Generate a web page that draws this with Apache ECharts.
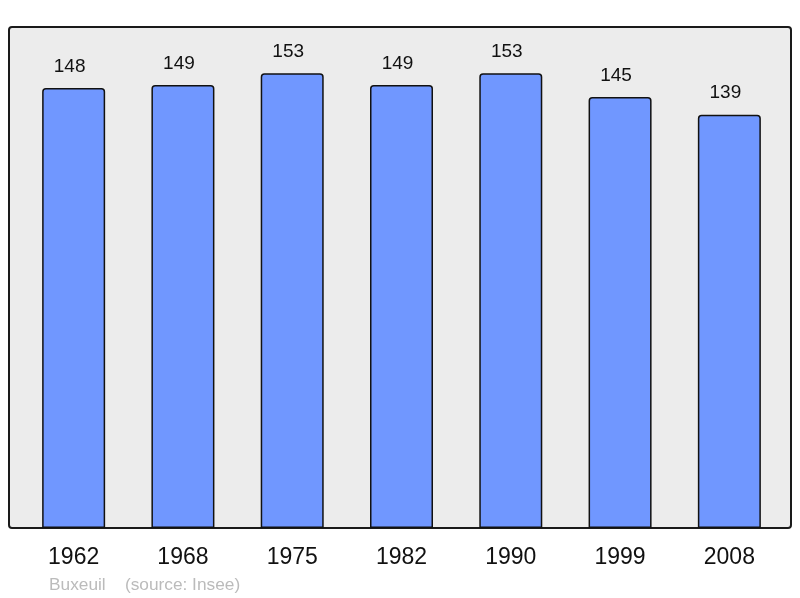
<!DOCTYPE html>
<html>
<head>
<meta charset="utf-8">
<script src="https://cdn.jsdelivr.net/npm/echarts@6/dist/echarts.min.js"></script>
<style>
html, body { margin: 0; padding: 0; background: #fff; }
#container { width: 800px; height: 598px; }
</style>
</head>
<body>
<div id="container"></div>
<script>
var years = ['1962', '1968', '1975', '1982', '1990', '1999', '2008'];
var population = [148, 149, 153, 149, 153, 145, 139];
var footer = 'Buxeuil    (source: Insee)';

var myChart = echarts.init(document.getElementById('container'));
myChart.setOption({
    animation: false,
    textStyle: { fontFamily: 'Liberation Sans, Arial, sans-serif' },
    graphic: [
        {
            type: 'rect', z: -10,
            shape: { x: 9, y: 27, width: 782, height: 501, r: 3 },
            style: { fill: '#ececec', stroke: '#1a1a1a', lineWidth: 2 }
        },
        {
            type: 'text', left: 49, top: 577,
            style: { text: footer, fill: '#bbbbbb', font: '17.3px Liberation Sans, Arial, sans-serif' }
        }
    ],
    grid: { left: 19, right: 16, top: 22.6, bottom: 70 },
    xAxis: {
        type: 'category',
        data: years,
        axisLine: { show: false },
        axisTick: { show: false },
        axisLabel: { color: '#111', fontSize: 23, margin: 18 }
    },
    yAxis: {
        type: 'value', min: 0, max: 170, show: false
    },
    series: [{
        type: 'bar',
        data: population,
        barWidth: 63,
        itemStyle: { color: '#7097ff', borderColor: '#111', borderWidth: 1.5, borderRadius: [3, 3, 0, 0] },
        label: { show: true, position: 'top', distance: 12, offset: [-4, 0], color: '#111', fontSize: 19 }
    }]
});
</script>
</body>
</html>
